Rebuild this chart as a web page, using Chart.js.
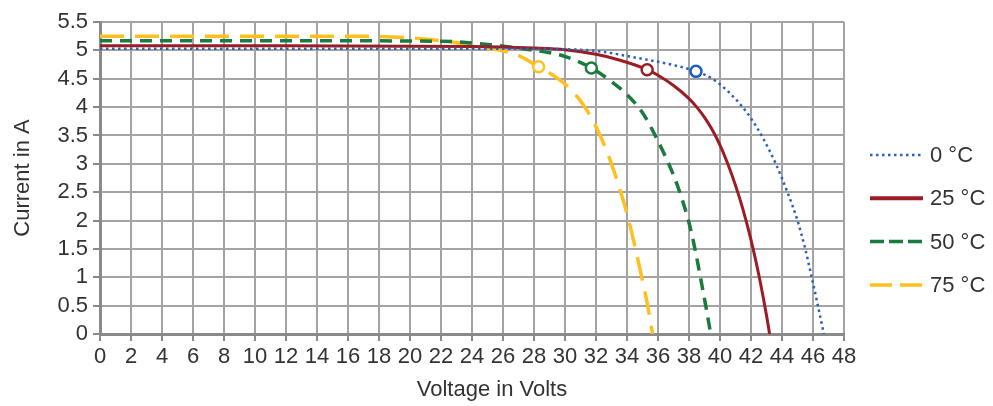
<!DOCTYPE html>
<html><head><meta charset="utf-8">
<script src="https://cdn.jsdelivr.net/npm/chart.js@4.4.1/dist/chart.umd.min.js"></script>
<style>html,body{margin:0;padding:0;background:#fff}#wrap{width:993px;height:406px}</style>
</head><body><div id="wrap"><canvas id="c" width="993" height="406"></canvas></div>
<script>
// ---- data ----
const seriesLabels = ['0 \u00B0C', '25 \u00B0C', '50 \u00B0C', '75 \u00B0C'];

const volts0C = [0, 10, 20, 28, 30, 32, 34.8, 37, 38.45, 39.5, 40.5, 41.4, 42.1, 42.8, 43.6, 44.35, 45.0, 45.5, 45.9, 46.3, 46.7];
const amps0C  = [5.03, 5.03, 5.03, 5.03, 5.02, 4.99, 4.86, 4.74, 4.63, 4.50, 4.28, 4.02, 3.76, 3.44, 3.0, 2.5, 2.0, 1.5, 1.02, 0.52, 0];

const volts25C = [0, 12, 24, 28, 30, 32, 33.5, 35.3, 36, 37, 38, 38.5, 39, 39.5, 40, 40.5, 41, 41.5, 42, 42.5, 43, 43.2];
const amps25C  = [5.08, 5.08, 5.07, 5.04, 5.01, 4.93, 4.83, 4.66, 4.56, 4.38, 4.15, 4.0, 3.82, 3.6, 3.33, 3.0, 2.62, 2.18, 1.66, 1.05, 0.33, 0];

const volts50C = [0, 12, 22, 25.2, 27.5, 29.9, 31.7, 33, 34, 35, 35.8, 37.0, 37.5, 38.0, 38.4, 38.75, 39.1, 39.4];
const amps50C  = [5.17, 5.17, 5.16, 5.10, 5.02, 4.90, 4.69, 4.45, 4.22, 3.9, 3.51, 2.8, 2.42, 1.96, 1.48, 0.98, 0.47, 0];

const volts75C = [0, 10, 17, 20, 22.6, 24.8, 26.9, 28.3, 29.0, 29.7, 30.4, 31.0, 31.6, 32.2, 32.8, 33.4, 34.0, 34.5, 35.0, 35.3, 35.65];
const amps75C  = [5.25, 5.25, 5.25, 5.22, 5.15, 5.05, 4.92, 4.71, 4.60, 4.47, 4.30, 4.11, 3.86, 3.54, 3.15, 2.67, 2.12, 1.56, 0.94, 0.55, 0];

// maximum power points (open circles)
const mppVolts = [38.45, 35.3, 31.7, 28.3];
const mppAmps  = [4.63, 4.66, 4.69, 4.71];

const xTicks = [0, 2, 4, 6, 8, 10, 12, 14, 16, 18, 20, 22, 24, 26, 28, 30, 32, 34, 36, 38, 40, 42, 44, 46, 48];
const yTicks = [0, 0.5, 1, 1.5, 2, 2.5, 3, 3.5, 4, 4.5, 5, 5.5];

// ---- styles ----
const colors = ['#2b62b6', '#9c1c24', '#1b7a3e', '#ffc01f'];
const markerColors = ['#1f5cbd', '#9c1c24', '#1b7a3e', '#ffc01f'];
const dashes = [[2.5, 3.5], [], [12, 8], [24, 11]];
const widths = [2.5, 3, 3.5, 3.5];
const FONT = "'Liberation Sans', Arial, Helvetica, sans-serif";
const TXT = '#333333';

const curveV = [volts0C, volts25C, volts50C, volts75C];
const curveI = [amps0C, amps25C, amps50C, amps75C];

const toPts = (xs, ys) => xs.map((x, k) => ({x: x, y: ys[k]}));

const datasets = [];
seriesLabels.forEach((lab, s) => {
  datasets.push({
    label: lab + ' MPP', isMarker: true, order: 0,
    data: [{x: mppVolts[s], y: mppAmps[s]}],
    showLine: false, pointRadius: 5.5, pointHoverRadius: 5.5,
    pointBorderWidth: 2.5, pointBorderColor: markerColors[s], pointBackgroundColor: '#ffffff'
  });
});
seriesLabels.forEach((lab, s) => {
  datasets.push({
    label: lab, order: 1 + s,
    data: toPts(curveV[s], curveI[s]),
    showLine: true, pointRadius: 0,
    borderColor: colors[s], borderWidth: widths[s], borderDash: dashes[s],
    cubicInterpolationMode: 'monotone', fill: false
  });
});

const sideLegend = {
  id: 'sideLegend',
  afterDraw(chart) {
    const ctx = chart.ctx, ca = chart.chartArea;
    const x0 = ca.right + 26, x1 = x0 + 53, tx = x1 + 7;
    const y0 = ca.top + 133, dy = 43.3;
    let k = 0;
    chart.data.datasets.forEach(ds => {
      if (ds.isMarker) return;
      const y = y0 + k * dy;
      ctx.save();
      ctx.strokeStyle = ds.borderColor;
      ctx.lineWidth = k === 1 ? 4 : ds.borderWidth;
      ctx.setLineDash(k === 2 ? [14, 5] : (k === 3 ? [22, 8] : ds.borderDash));
      ctx.beginPath(); ctx.moveTo(x0, y); ctx.lineTo(x1, y); ctx.stroke();
      ctx.setLineDash([]);
      ctx.fillStyle = TXT;
      ctx.font = '22px ' + FONT;
      ctx.textBaseline = 'middle';
      ctx.textAlign = 'left';
      ctx.fillText(ds.label, tx, y + 1);
      ctx.restore();
      k++;
    });
  }
};

const gridOpts = {color: '#a3a3a3', lineWidth: 2, tickLength: 7, tickColor: '#8a8a8a', tickWidth: 2};

new Chart(document.getElementById('c'), {
  type: 'scatter',
  data: {datasets},
  plugins: [sideLegend],
  options: {
    responsive: false, animation: false, devicePixelRatio: 1,
    layout: {padding: {top: 22, right: 9, left: 0, bottom: 0}},
    plugins: {
      legend: {display: false}, tooltip: {enabled: false},
      title: {display: true, position: 'bottom', text: 'Voltage in Volts', color: TXT,
              font: {family: FONT, size: 22, weight: 'normal'}, padding: {top: 4, bottom: 3}}
    },
    scales: {
      x: {
        type: 'linear', min: 0, max: 48,
        afterBuildTicks: sc => { sc.ticks = xTicks.map(v => ({value: v})); },
        afterFit: sc => { sc.height = 38.6; },
        ticks: {autoSkip: false, maxRotation: 0, color: TXT, padding: 3, font: {family: FONT, size: 22}},
        grid: gridOpts,
        border: {color: '#8a8a8a', width: 3}
      },
      y: {
        type: 'linear', min: 0, max: 5.5,
        afterBuildTicks: sc => { sc.ticks = yTicks.map(v => ({value: v})); },
        afterFit: sc => { sc.width = 100; },
        ticks: {autoSkip: false, color: TXT, padding: 5, font: {family: FONT, size: 22}, callback: v => String(v)},
        grid: gridOpts,
        border: {color: '#8a8a8a', width: 3},
        title: {display: true, text: 'Current in A', color: TXT,
                font: {family: FONT, size: 22}, padding: {top: 10, bottom: 0}}
      },
      legendSpace: {
        type: 'linear', position: 'right', min: 0, max: 1,
        afterFit: sc => { sc.width = 140; },
        ticks: {display: false}, grid: {display: false}, border: {display: false}
      }
    }
  }
});
</script></body></html>
